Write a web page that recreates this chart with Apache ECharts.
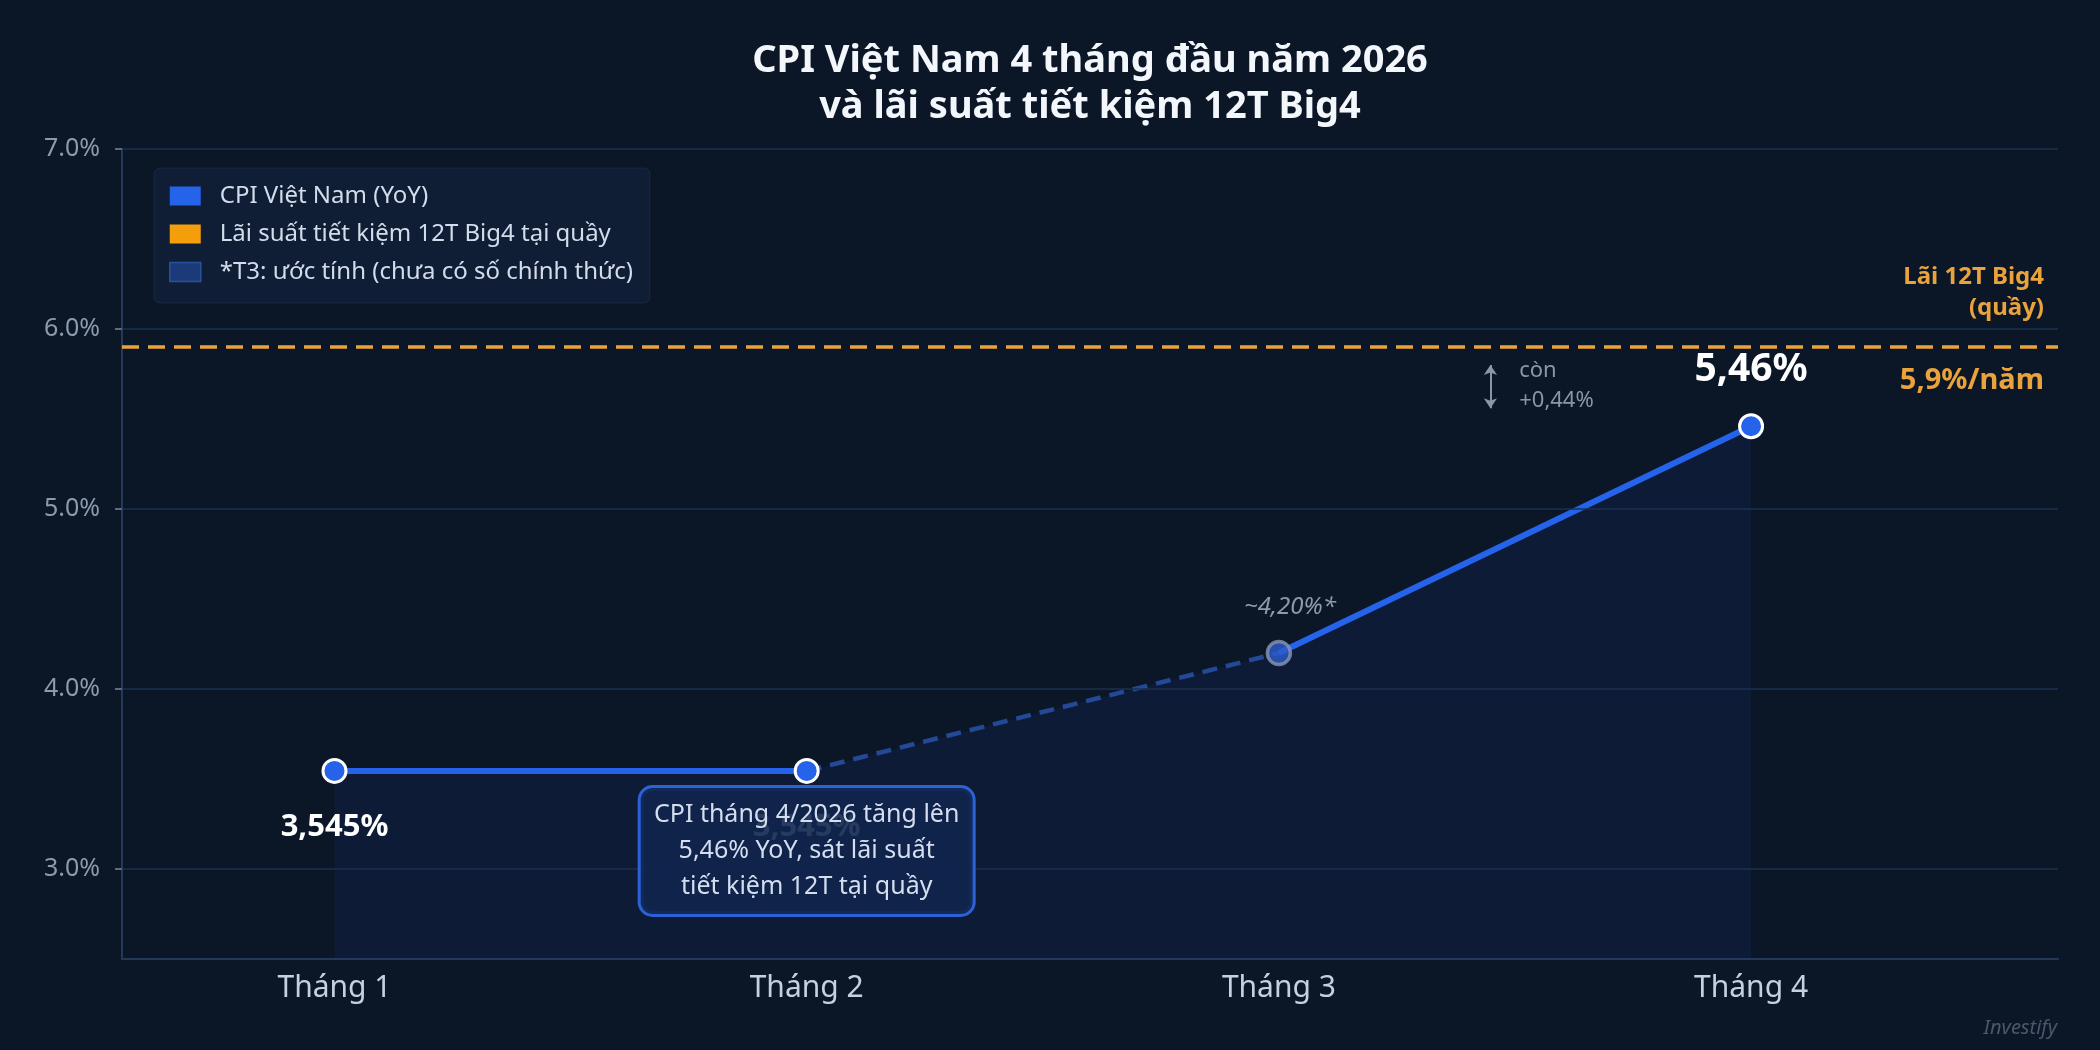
<!DOCTYPE html>
<html>
<head>
<meta charset="utf-8">
<script src="https://cdn.jsdelivr.net/npm/echarts@6/dist/echarts.min.js"></script>
<style>
  html, body { margin: 0; padding: 0; background: #0b1627; }
  #main { width: 2100px; height: 1050px; }
</style>
</head>
<body>
<div id="main"></div>
<script>
// du lieu
const months = ["Tháng 1", "Tháng 2", "Tháng 3", "Tháng 4"];
const cpi = [3.545, 3.545, 4.2, 5.46];
const cpiLabels = ["3,545%", "3,545%", "~4,20%*", "5,46%"];
const rate = 5.9;
const yTicks = [3, 4, 5, 6, 7];
const legendNames = [
  "CPI Việt Nam (YoY)",
  "Lãi suất tiết kiệm 12T Big4 tại quầy",
  "*T3: ước tính (chưa có số chính thức)",
];
const titleText = "CPI Việt Nam 4 tháng đầu năm 2026\nvà lãi suất tiết kiệm 12T Big4";
const noteText = "CPI tháng 4/2026 tăng lên\n5,46% YoY, sát lãi suất\ntiết kiệm 12T tại quầy";

const X_MIN = -0.45, X_MAX = 3.65;
const FONT = "Noto Sans";
const BLUE = "#2563eb";
const ORANGE = "#eaa23a";

const pts = cpi.map((v, i) => [i, v]);
const gap = (rate - cpi[3]).toFixed(2).replace(".", ",");

const chart = echarts.init(document.getElementById("main"));

let option = {
  backgroundColor: "#0b1627",
  textStyle: { fontFamily: FONT },
  animation: false,
  legend: {
    orient: "vertical",
    left: 154,
    top: 168,
    selectedMode: false,
    itemWidth: 31,
    itemHeight: 19,
    itemGap: 14,
    padding: [16, 17, 19, 15],
    backgroundColor: "rgba(22,38,66,0.55)",
    borderColor: "rgba(60,85,120,0.25)",
    borderWidth: 1,
    borderRadius: 6,
    textStyle: {
      color: "#d3dcea",
      fontSize: 24,
      lineHeight: 24,
      padding: [0, 0, 0, 14],
      fontFamily: FONT,
    },
    data: [
      { name: legendNames[0], icon: "rect", itemStyle: { color: BLUE } },
      { name: legendNames[1], icon: "rect", itemStyle: { color: "#f59e0b" } },
      {
        name: legendNames[2],
        icon: "rect",
        itemStyle: { color: "#1d3a78", borderColor: "#28509e", borderWidth: 1.5 },
      },
    ],
  },
  grid: { left: 122, right: 42, top: 149, bottom: 91, containLabel: false },
  xAxis: {
    type: "value",
    min: X_MIN,
    max: X_MAX,
    axisLine: { show: true, onZero: false, lineStyle: { color: "#26385a", width: 2 } },
    axisTick: { show: false },
    splitLine: { show: false },
    axisLabel: {
      customValues: [0, 1, 2, 3],
      formatter: (v) => months[v] || "",
      color: "#c6d1e0",
      fontSize: 30,
      margin: 14,
      fontFamily: FONT,
    },
  },
  yAxis: {
    type: "value",
    min: 2.5,
    max: 7,
    interval: 0.5,
    axisLine: { show: true, onZero: false, lineStyle: { color: "#26385a", width: 2 } },
    axisTick: {
      show: true,
      customValues: yTicks,
      length: 7,
      lineStyle: { color: "#5d6c84", width: 2 },
    },
    splitLine: { show: false },
    axisLabel: {
      customValues: yTicks,
      formatter: (v) => (yTicks.indexOf(v) >= 0 ? v.toFixed(1) + "%" : ""),
      color: "#8d9aae",
      fontSize: 25,
      margin: 22,
      fontFamily: FONT,
    },
  },
  series: [
    // luoi ngang
    {
      type: "line",
      data: [],
      silent: true,
      z: 1,
      markLine: {
        silent: true,
        symbol: "none",
        label: { show: false },
        lineStyle: { color: "#1b3152", width: 1.5, type: "solid" },
        data: yTicks.map((v) => ({ yAxis: v })),
      },
    },
    // vung to
    {
      type: "line",
      data: pts,
      z: 2,
      symbol: "none",
      silent: true,
      lineStyle: { width: 0 },
      areaStyle: { color: "rgba(24,58,140,0.22)", origin: "start" },
    },
    // lai suat
    {
      name: legendNames[1],
      type: "line",
      data: [[X_MIN, rate], [X_MAX, rate]],
      z: 3,
      symbol: "none",
      silent: true,
      lineStyle: { color: ORANGE, width: 3.5, type: [17, 9] },
      markPoint: {
        symbol: "circle",
        symbolSize: 0,
        silent: true,
        itemStyle: { opacity: 1 },
        data: [
          {
            coord: [X_MAX, rate],
            label: {
              show: true,
              position: "inside",
              align: "right",
              verticalAlign: "middle",
              offset: [-14, -54],
              formatter: "Lãi 12T Big4\n(quầy)",
              color: ORANGE,
              fontSize: 24,
              fontWeight: "bold",
              lineHeight: 31,
              fontFamily: FONT,
            },
          },
          {
            coord: [X_MAX, rate],
            label: {
              show: true,
              position: "inside",
              align: "right",
              verticalAlign: "middle",
              offset: [-14, 34],
              formatter: "5,9%/năm",
              color: ORANGE,
              fontSize: 29,
              fontWeight: "bold",
              fontFamily: FONT,
            },
          },
        ],
      },
    },
    // T1 - T2
    {
      name: legendNames[0],
      type: "line",
      data: pts.slice(0, 2),
      z: 4,
      symbol: "none",
      lineStyle: { color: BLUE, width: 6 },
    },
    // T2 - T3 uoc tinh
    {
      name: legendNames[2],
      type: "line",
      data: pts.slice(1, 3),
      z: 4,
      symbol: "none",
      lineStyle: { color: "rgba(40,82,170,0.85)", width: 4.5, type: [15, 9] },
    },
    // T3 - T4
    {
      name: legendNames[0],
      type: "line",
      data: pts.slice(2, 4),
      z: 4,
      symbol: "none",
      lineStyle: { color: BLUE, width: 6 },
    },
    // diem + nhan
    {
      name: legendNames[0],
      type: "scatter",
      z: 5,
      symbolSize: 23,
      itemStyle: { opacity: 1 },
      data: pts.map((p, i) => {
        const est = i === 2;
        const up = i >= 2;
        return {
          value: p,
          itemStyle: est
            ? { color: "rgba(45,92,205,0.8)", borderColor: "rgba(135,150,176,0.8)", borderWidth: 3.5, opacity: 1 }
            : { color: BLUE, borderColor: "#ffffff", borderWidth: 3, opacity: 1 },
          label: {
            show: true,
            formatter: cpiLabels[i],
            position: up ? "top" : "bottom",
            distance: i === 3 ? 24 : i === 2 ? 21 : 28,
            offset: est ? [11, 0] : [0, 0],
            color: est ? "#8d9aae" : "#ffffff",
            fontStyle: est ? "italic" : "normal",
            fontWeight: est ? "normal" : "bold",
            fontSize: i === 3 ? 39 : est ? 24 : 31,
            fontFamily: FONT,
          },
        };
      }),
    },
    // con +0,44%
    {
      type: "scatter",
      z: 5,
      silent: true,
      symbolSize: 0,
      itemStyle: { opacity: 1 },
      data: [
        {
          value: [2.509, 5.683],
          label: {
            show: true,
            position: "inside",
            align: "left",
            verticalAlign: "middle",
            formatter: "còn\n+" + gap + "%",
            color: "#8a96a8",
            fontSize: 22,
            lineHeight: 30,
            fontFamily: FONT,
          },
        },
      ],
      markLine: {
        silent: true,
        symbol: ["arrow", "arrow"],
        symbolSize: 10,
        label: { show: false },
        lineStyle: { color: "#8a96a8", width: 2, type: "solid" },
        data: [[{ coord: [2.448, 5.8] }, { coord: [2.448, 5.56] }]],
      },
    },
    // hop ghi chu
    {
      type: "scatter",
      z: 10,
      silent: true,
      symbolSize: 0,
      itemStyle: { opacity: 1 },
      data: [
        {
          value: [1, 3.1],
          label: {
            show: true,
            position: "inside",
            formatter: noteText,
            color: "#d4deef",
            fontSize: 25,
            lineHeight: 36,
            align: "center",
            width: 306,
            padding: [9, 13, 9, 13],
            backgroundColor: "rgba(16,37,78,0.9)",
            borderColor: "#2d62d6",
            borderWidth: 3,
            borderRadius: 12,
            fontFamily: FONT,
          },
        },
      ],
    },
  ],
  graphic: [
    // tieu de, canh giua theo vung ve
    {
      type: "text",
      x: 1090,
      y: 38,
      style: {
        text: titleText,
        fill: "#f3f6fb",
        font: "bold 38px 'Noto Sans'",
        lineHeight: 46,
        align: "center",
        verticalAlign: "top",
      },
    },
    {
      type: "text",
      right: 43,
      bottom: 12,
      style: {
        text: "Investify",
        fill: "#4b586c",
        font: "italic 20px 'Noto Sans'",
      },
    },
  ],
};

chart.setOption(option);
</script>
</body>
</html>
